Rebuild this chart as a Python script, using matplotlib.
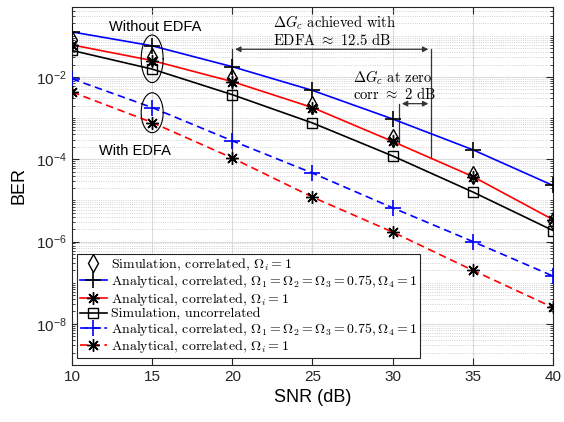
import numpy as np
import matplotlib
matplotlib.use('Agg')
import matplotlib.pyplot as plt
from matplotlib.font_manager import FontProperties
from matplotlib.ticker import FixedLocator, LogLocator, NullFormatter, FuncFormatter

plt.rcParams['font.family'] = ['Liberation Sans', 'DejaVu Sans']
plt.rcParams['mathtext.fontset'] = 'custom'
plt.rcParams['mathtext.rm'] = 'Liberation Sans'
plt.rcParams['mathtext.it'] = 'Liberation Sans:italic'
plt.rcParams['mathtext.bf'] = 'Liberation Sans:bold'

snr = [10, 15, 20, 25, 30, 35, 40]
# without EDFA
ber_sim_corr = [0.078, 0.031, 9.5e-3, 2.1e-3, 3.2e-4, 4.2e-5, 3.2e-6]
ber_ana_075 = [0.124, 0.057, 0.0177, 4.7e-3, 9.5e-4, 1.7e-4, 2.3e-5]
ber_ana_1 = [0.060, 0.025, 7.7e-3, 1.8e-3, 2.7e-4, 3.8e-5, 3.4e-6]
ber_sim_uncorr = [0.044, 0.0155, 3.7e-3, 7.6e-4, 1.2e-4, 1.6e-5, 1.85e-6]
# with EDFA
ber_edfa_075 = [9.0e-3, 1.8e-3, 2.8e-4, 4.6e-5, 6.6e-6, 1.0e-6, 1.45e-7]
ber_edfa_1 = [4.3e-3, 7.8e-4, 1.07e-4, 1.2e-5, 1.7e-6, 2.0e-7, 2.5e-8]

labels = [r'Simulation, correlated, $\Omega_i = 1$',
          r'Analytical, correlated, $\Omega_1 = \Omega_2 = \Omega_3 = 0.75, \Omega_4 = 1$',
          r'Analytical, correlated, $\Omega_i = 1$',
          'Simulation, uncorrelated',
          r'Analytical, correlated, $\Omega_1 = \Omega_2 = \Omega_3 = 0.75, \Omega_4 = 1$',
          r'Analytical, correlated, $\Omega_i = 1$']

star = (8, 2, 0)
lw = 1.2
dash = (4.5, 2.8)

fig = plt.figure(figsize=(5.64, 4.22), dpi=100)
ax = fig.add_axes([72/564, 57/422, 481/564, 358/422])

h1, = ax.plot(snr, ber_sim_corr, ls='none', marker='d', ms=9, mfc='none', mec='k', mew=1.0, zorder=4)
h2, = ax.plot(snr, ber_ana_075, color='b', lw=lw, marker='+', ms=11, mec='k', mew=1.2, zorder=3)
h3, = ax.plot(snr, ber_ana_1, color='r', lw=lw, marker=star, ms=9, mec='k', mew=1.0, zorder=3)
h4, = ax.plot(snr, ber_sim_uncorr, color='k', lw=lw, marker='s', ms=7, mfc='none', mec='k', mew=1.0, zorder=3)
h5, = ax.plot(snr, ber_edfa_075, color='b', lw=lw, ls='--', dashes=dash, marker='+', ms=11, mec='b', mew=1.2, zorder=3)
h6, = ax.plot(snr, ber_edfa_1, color='r', lw=lw, ls='--', dashes=dash, marker=star, ms=9, mec='k', mew=1.0, zorder=3)

ax.set_yscale('log')
ax.set_xlim(10, 40)
ax.set_ylim(1e-9, 0.5)
ax.set_xticks(snr)
ax.yaxis.set_major_locator(FixedLocator([1e-8, 1e-6, 1e-4, 1e-2]))
ax.yaxis.set_major_formatter(FuncFormatter(lambda v, p: r'$10^{%d}$' % round(np.log10(v))))
ax.yaxis.set_minor_locator(LogLocator(base=10, subs=np.arange(1, 10), numticks=30))
ax.yaxis.set_minor_formatter(NullFormatter())

ax.grid(True, which='major', color='#dcdcdc', lw=0.8, ls='-')
ax.grid(True, which='minor', axis='y', color='#c4c4c4', lw=0.6, ls=':')
ax.set_axisbelow(True)
ax.tick_params(which='both', direction='in', top=True, right=True, labelsize=11, colors='#262626')
ax.tick_params(which='major', length=5)
ax.tick_params(which='minor', length=2.5)
for s in ax.spines.values():
    s.set_color('#262626')
    s.set_linewidth(0.8)

ax.set_xlabel('SNR (dB)', fontsize=13, labelpad=4)
ax.set_ylabel('BER', fontsize=13, labelpad=6)

# ellipses round the groups at 15 dB
t = np.linspace(0, 2*np.pi, 200)
ax.plot(15 + 0.686*np.cos(t), 10**(-1.559 + 0.578*np.sin(t)), color='k', lw=0.8, zorder=5)
ax.plot(15 + 0.686*np.cos(t), 10**(-2.87 + 0.485*np.sin(t)), color='k', lw=0.8, zorder=5)
ax.text(15.18, 0.166, 'Without EDFA', fontsize=10.5, ha='center', va='center')
ax.text(13.9, 1.55e-4, 'With EDFA', fontsize=10.5, ha='center', va='center')

# coding gain arrows
cm = dict(family='cmr10', math_fontfamily='cm', fontsize=10.5)
ax.plot([20, 20], [1.07e-4, 0.047], color='#333333', lw=0.9)
ax.plot([32.4, 32.4], [1.07e-4, 0.047], color='#333333', lw=0.9)
ax.annotate('', xy=(20, 0.047), xytext=(32.4, 0.047),
            arrowprops=dict(arrowstyle='<|-|>', color='#333333', lw=0.9, mutation_scale=8))
ax.text(22.54, 0.204, r'$\Delta G_c$ achieved with', ha='left', va='center', **cm)
ax.text(22.54, 0.079, r'EDFA $\approx$ 12.5 dB', ha='left', va='center', **cm)
ax.plot([30.4, 30.4], [2.5e-4, 2.24e-3], color='#333333', lw=0.9)
ax.annotate('', xy=(30.4, 2.24e-3), xytext=(32.4, 2.24e-3),
            arrowprops=dict(arrowstyle='<|-|>', color='#333333', lw=0.9, mutation_scale=8))
ax.text(27.5, 9.8e-3, r'$\Delta G_c$ at zero', ha='left', va='center', **cm)
ax.text(27.5, 3.9e-3, r'corr $\approx$ 2 dB', ha='left', va='center', **cm)

leg = ax.legend([h1, h2, h3, h4, h5, h6], labels, loc='lower left', bbox_to_anchor=(0.01, 0.02),
                borderaxespad=0, prop=FontProperties(family='cmr10', size=10, math_fontfamily='cm'),
                fancybox=False, framealpha=1, edgecolor='#262626', labelspacing=0.02,
                handlelength=2.0, handletextpad=0.25, borderpad=0.2)
leg.get_frame().set_linewidth(0.8)

fig.savefig('out.png', dpi=100)
